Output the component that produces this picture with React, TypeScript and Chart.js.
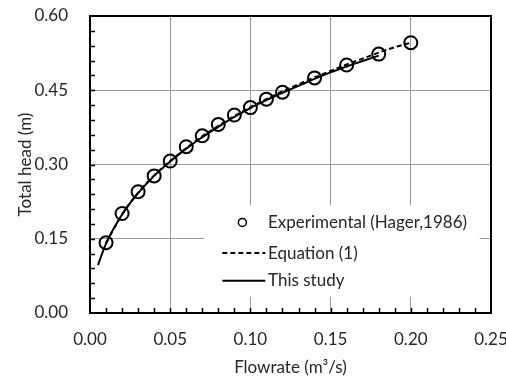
import React, { useEffect, useRef } from "react";
import { Chart, registerables } from "chart.js";

Chart.register(...registerables);

// Experimental data (Hager, 1986)
const expQ = [0.01, 0.02, 0.03, 0.04, 0.05, 0.06, 0.07, 0.08, 0.09, 0.10, 0.11, 0.12, 0.14, 0.16, 0.18, 0.20];
const expH = [0.142, 0.201, 0.245, 0.277, 0.307, 0.336, 0.358, 0.381, 0.400, 0.415, 0.432, 0.446, 0.475, 0.501, 0.523, 0.546];

// Equation (1)
const eqQ = [0.01, 0.02, 0.03, 0.04, 0.05, 0.06, 0.07, 0.08, 0.09, 0.10, 0.11, 0.12, 0.13, 0.14, 0.15, 0.16, 0.17, 0.18, 0.19, 0.20];
const eqH = [0.142, 0.199, 0.243, 0.278, 0.307, 0.333, 0.357, 0.378, 0.398, 0.416, 0.432, 0.448, 0.462, 0.476, 0.489, 0.502, 0.514, 0.526, 0.537, 0.546];

// This study
const stQ = [0.005, 0.01, 0.02, 0.03, 0.04, 0.05, 0.06, 0.07, 0.08, 0.09, 0.10, 0.11, 0.12, 0.13, 0.14, 0.15, 0.16, 0.17, 0.18];
const stH = [0.097, 0.14, 0.199, 0.242, 0.277, 0.306, 0.332, 0.355, 0.376, 0.396, 0.414, 0.430, 0.445, 0.459, 0.473, 0.486, 0.498, 0.509, 0.520];

const legendLabels = ["Experimental (Hager,1986)", "Equation (1)", "This study"];
const xTitle = "Flowrate (m³/s)";
const yTitle = "Total head (m)";

const FONT = "Lato, 'Open Sans', sans-serif";
const TEXT = "#262626";

const framePlugin = {
  id: "frameAndLegend",
  beforeDatasetsDraw(chart: any) {
    const { ctx, chartArea } = chart;
    const { left, right, top, bottom } = chartArea;
    const xs = chart.scales.x;
    const ys = chart.scales.y;
    ctx.save();
    // legend background box (interrupts grid lines)
    const bx0 = xs.getPixelForValue(0.071);
    const bx1 = xs.getPixelForValue(0.243);
    const by0 = ys.getPixelForValue(0.218);
    const by1 = ys.getPixelForValue(0.033);
    ctx.fillStyle = "#ffffff";
    ctx.fillRect(bx0, by0, bx1 - bx0, by1 - by0);

    // minor ticks (inward)
    ctx.strokeStyle = "#000";
    ctx.lineWidth = 1.5;
    ctx.beginPath();
    for (let i = 1; i < 25; i++) {
      const px = Math.round(xs.getPixelForValue(i * 0.01)) + 0.5;
      ctx.moveTo(px, bottom);
      ctx.lineTo(px, bottom - 5);
    }
    for (let i = 1; i < 20; i++) {
      const py = Math.round(ys.getPixelForValue(i * 0.03)) + 0.5;
      ctx.moveTo(left, py);
      ctx.lineTo(left + 5, py);
    }
    ctx.stroke();

    // frame
    ctx.lineWidth = 2;
    ctx.strokeStyle = "#000";
    ctx.strokeRect(left, top, right - left, bottom - top);

    // legend items
    ctx.font = `17px ${FONT}`;
    ctx.fillStyle = TEXT;
    ctx.textBaseline = "middle";
    ctx.textAlign = "left";
    const lx0 = xs.getPixelForValue(0.0825);
    const lx1 = xs.getPixelForValue(0.1093);
    const tx = xs.getPixelForValue(0.111);
    const rows = [ys.getPixelForValue(0.183), ys.getPixelForValue(0.121), ys.getPixelForValue(0.065)];
    // circle marker
    ctx.lineWidth = 1.5;
    ctx.beginPath();
    ctx.arc(xs.getPixelForValue(0.095), rows[0], 4, 0, Math.PI * 2);
    ctx.stroke();
    ctx.fillText(legendLabels[0], tx, rows[0]);
    // dashed line
    ctx.lineWidth = 2;
    ctx.setLineDash([5, 3]);
    ctx.beginPath();
    ctx.moveTo(lx0, rows[1]);
    ctx.lineTo(lx1, rows[1]);
    ctx.stroke();
    ctx.setLineDash([]);
    ctx.fillText(legendLabels[1], tx, rows[1]);
    // solid line
    ctx.beginPath();
    ctx.moveTo(lx0, rows[2]);
    ctx.lineTo(lx1, rows[2]);
    ctx.stroke();
    ctx.fillText(legendLabels[2], tx, rows[2]);
    ctx.restore();
  },
};

export default function App() {
  const canvasRef = useRef<HTMLCanvasElement | null>(null);

  useEffect(() => {
    if (!canvasRef.current) return;
    const chart = new Chart(canvasRef.current, {
      type: "scatter",
      data: {
        datasets: [
          {
            label: legendLabels[0],
            data: expQ.map((q, i) => ({ x: q, y: expH[i] })),
            showLine: false,
            pointStyle: "circle",
            pointRadius: 6.5,
            pointBorderWidth: 2,
            pointBorderColor: "#000",
            pointBackgroundColor: "rgba(0,0,0,0)",
          },
          {
            label: legendLabels[1],
            data: eqQ.map((q, i) => ({ x: q, y: eqH[i] })),
            showLine: true,
            borderColor: "#000",
            borderWidth: 2,
            borderDash: [5, 3],
            pointRadius: 0,
            cubicInterpolationMode: "monotone",
          },
          {
            label: legendLabels[2],
            data: stQ.map((q, i) => ({ x: q, y: stH[i] })),
            showLine: true,
            borderColor: "#000",
            borderWidth: 2,
            pointRadius: 0,
            cubicInterpolationMode: "monotone",
          },
        ] as any,
      },
      options: {
        animation: false,
        responsive: false,
        events: [],
        layout: { padding: { top: 16, right: 15, left: 0, bottom: 0 } },
        plugins: { legend: { display: false }, tooltip: { enabled: false } },
        scales: {
          x: {
            type: "linear",
            min: 0,
            max: 0.25,
            afterFit(scale: any) {
              scale.height = 67;
              scale.paddingLeft = 0;
              scale.paddingRight = 0;
            },
            ticks: {
              stepSize: 0.05,
              padding: 16,
              color: TEXT,
              font: { family: FONT, size: 17 },
              callback: (v: any) => Number(v).toFixed(2),
            },
            grid: { color: "#9a9a9a", lineWidth: 1, drawTicks: false },
            border: { display: false },
            title: {
              display: true,
              text: xTitle,
              color: TEXT,
              font: { family: FONT, size: 17 },
              padding: { top: 2, bottom: 2 },
            },
          },
          y: {
            type: "linear",
            min: 0,
            max: 0.6,
            afterFit(scale: any) {
              scale.width = 90;
              scale.paddingTop = 0;
              scale.paddingBottom = 0;
            },
            ticks: {
              stepSize: 0.15,
              padding: 22,
              color: TEXT,
              font: { family: FONT, size: 17 },
              callback: (v: any) => Number(v).toFixed(2),
            },
            grid: { color: "#9a9a9a", lineWidth: 1, drawTicks: false },
            border: { display: false },
            title: {
              display: true,
              text: yTitle,
              color: TEXT,
              font: { family: FONT, size: 17 },
              padding: { top: 15, bottom: 15 },
            },
          },
        },
      } as any,
      plugins: [framePlugin],
    });
    return () => chart.destroy();
  }, []);

  return (
    <div style={{ position: "fixed", left: 0, top: 0, width: 506, height: 380, background: "#fff" }}>
      <canvas ref={canvasRef} width={506} height={380} style={{ display: "block" }} />
    </div>
  );
}
